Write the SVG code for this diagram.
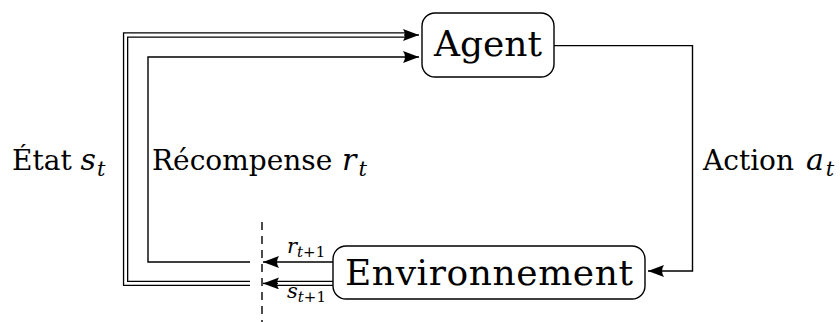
<svg xmlns="http://www.w3.org/2000/svg" width="840" height="322" viewBox="0 0 840 322">
<style>
.box{fill:#fff;stroke:#000;stroke-width:1.4}
.ln{fill:none;stroke:#000;stroke-width:1.4}
.dbo{fill:none;stroke:#000;stroke-width:5.4}
.dbi{fill:none;stroke:#fff;stroke-width:2.8}
.big{font-family:"DejaVu Serif",serif;font-size:36px;fill:#000}
.lab{font-family:"DejaVu Serif",serif;font-size:28px;fill:#000}
.it{font-style:italic}
.sm{font-family:"DejaVu Serif",serif;font-size:21px;fill:#000}
</style>
<defs>
<marker id="ah" markerUnits="userSpaceOnUse" markerWidth="16" markerHeight="12" refX="16" refY="6" orient="auto">
<path d="M0,0 L16,6 L0,12 Q4,6 0,0 Z" fill="#000"/>
</marker>
</defs>
<g id="connectors">
<path class="dbo" d="M250,283.4 H125.6 V35 H406"/>
<path class="dbi" d="M251,283.4 H125.6 V35 H406"/>
<path class="ln" d="M404,35 H419" marker-end="url(#ah)"/>
<path class="ln" d="M250,262 H148 V57 H419" marker-end="url(#ah)"/>
<path class="ln" d="M554,45.6 H692.5 V271 H648" marker-end="url(#ah)"/>
<path class="ln" d="M333,262 H263" marker-end="url(#ah)"/>
<path class="dbo" d="M333,283.4 H276"/>
<path class="dbi" d="M333,283.4 H276"/>
<path class="ln" d="M278,283.4 H263" marker-end="url(#ah)"/>
<path class="ln" d="M262,222 V322" stroke-dasharray="8 6"/>
</g>
<g id="agent">
<rect class="box" x="422" y="13" width="132" height="64" rx="13"/>
<text class="big" x="488" y="56" text-anchor="middle">Agent</text>
</g>
<g id="environnement">
<rect class="box" x="333" y="246" width="312" height="53" rx="13"/>
<text class="big" x="489" y="285" text-anchor="middle" textLength="288">Environnement</text>
</g>
<g id="labels">
<text class="lab" x="12" y="170">État <tspan class="it" font-size="30">s</tspan><tspan class="it" font-size="21" dy="6" dx="1">t</tspan></text>
<text class="lab" x="152" y="170">Récompense <tspan class="it" font-size="30" dx="1">r</tspan><tspan class="it" font-size="21" dy="6" dx="2">t</tspan></text>
<text class="lab" x="703" y="170">Action <tspan class="it" font-size="30" dx="3">a</tspan><tspan class="it" font-size="21" dy="6" dx="2">t</tspan></text>
<text class="sm" x="287" y="253"><tspan class="it">r</tspan><tspan font-size="15" dy="4"><tspan class="it">t</tspan>+1</tspan></text>
<text class="sm" x="287" y="298"><tspan class="it">s</tspan><tspan font-size="15" dy="4"><tspan class="it">t</tspan>+1</tspan></text>
</g>
</svg>
